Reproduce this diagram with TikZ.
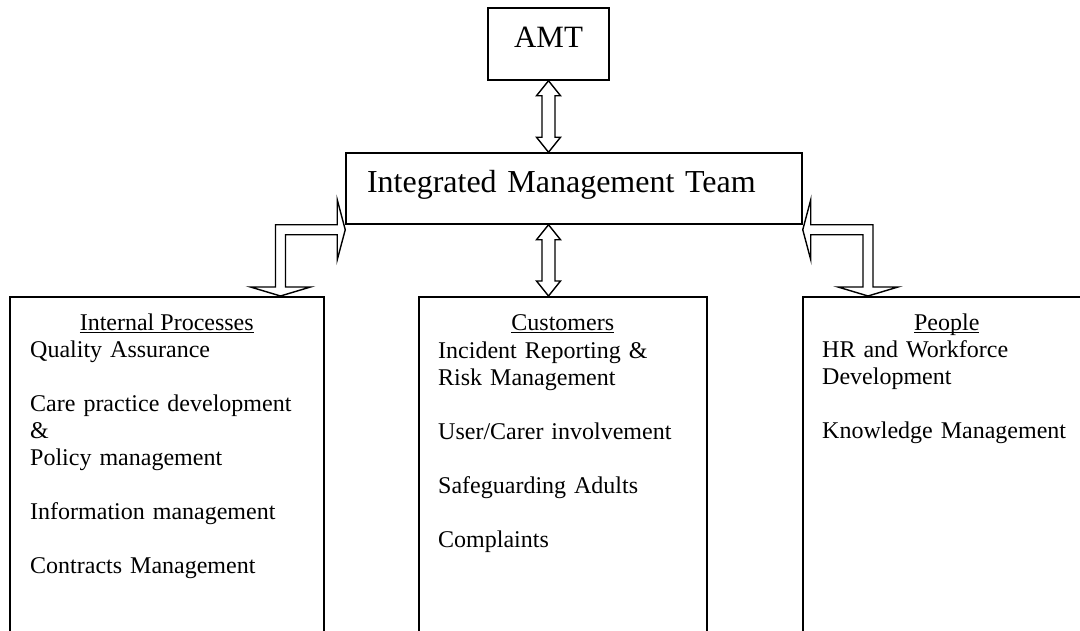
\documentclass[tikz,border=0pt]{standalone}
\usepackage{fontspec}
\setmainfont{Liberation Serif}
\usetikzlibrary{calc}

% heading underlined with a rule at a fixed depth below the baseline
\newcommand\hdrline[1]{\setbox0\hbox{#1}\rlap{\rule[-2.8bp]{\wd0}{1.1bp}}\box0}

\tikzset{
  frame/.style={draw, line width=1.5bp, rectangle, inner sep=0pt},
  blockarrow/.style={draw, line width=1.4bp, fill=white, line join=miter},
  big/.style={font=\fontsize{31bp}{36bp}\selectfont},
  bigger/.style={font=\fontsize{32bp}{36bp}\selectfont},
  body/.style={font=\fontsize{24bp}{27bp}\selectfont, inner sep=0pt},
  list/.style={body, anchor=base west, text width=280bp, align=left},
  head/.style={body, anchor=base}
}

% vertical two-headed block arrow from #1 (top tip) to #2 (bottom tip)
\newcommand\vdouble[2]{%
  \draw[blockarrow] let \p1=#1, \p2=#2 in
    (\x1,\y1) -- (\x1+12bp,\y1-15bp) -- (\x1+6.5bp,\y1-15bp)
    -- (\x1+6.5bp,\y2+15bp) -- (\x1+12bp,\y2+15bp) -- (\x1,\y2)
    -- (\x1-12bp,\y2+15bp) -- (\x1-6.5bp,\y2+15bp)
    -- (\x1-6.5bp,\y1-15bp) -- (\x1-12bp,\y1-15bp) -- cycle;}

\begin{document}
\begin{tikzpicture}[x=1bp,y=-1bp]
\clip (0,0) rectangle (1080,631);
\fill[white] (0,0) rectangle (1080,631);

% top boxes
\node[frame, big, minimum width=121bp, minimum height=72bp,
      text height=20bp, text depth=12bp] (amt) at (548.5,44) {AMT};
\node[frame, bigger, minimum width=456bp, minimum height=71bp, text width=414bp,
      align=left, text height=21bp, text depth=12bp] (imt) at (574,188.5)
      {Integrated Management Team};

% the three area boxes (they run past the lower edge)
\node[frame, anchor=north west, minimum width=314bp, minimum height=360bp] (ip) at (9,296) {};
\node[frame, anchor=north west, minimum width=288bp, minimum height=360bp] (cu) at (418,296) {};
\node[frame, anchor=north west, minimum width=288bp, minimum height=360bp] (pe) at (802,296) {};

% connectors
\vdouble{(amt.south)}{(amt.south |- imt.north)}
\vdouble{(amt.south |- imt.south)}{(amt.south |- cu.north)}

\draw[blockarrow] let \p1=($(imt.south west)+(0,5)$), \p2=($(ip.north east)+(-44,0)$) in
  (\x1,\y1) -- (\x1-8bp,\y1+30bp) -- (\x1-8bp,\y1+5bp) -- (\x2-5bp,\y1+5bp)
  -- (\x2-5bp,\y2+9bp) -- (\x2-30bp,\y2+9bp) -- (\x2,\y2) -- (\x2+30bp,\y2+9bp)
  -- (\x2+5bp,\y2+9bp) -- (\x2+5bp,\y1-5bp) -- (\x1-8bp,\y1-5bp)
  -- (\x1-8bp,\y1-30bp) -- cycle;

\draw[blockarrow] let \p1=($(imt.south east)+(0,5)$), \p2=($(pe.north west)+(66,0)$) in
  (\x1,\y1) -- (\x1+8bp,\y1+30bp) -- (\x1+8bp,\y1+5bp) -- (\x2+5bp,\y1+5bp)
  -- (\x2+5bp,\y2+9bp) -- (\x2+30bp,\y2+9bp) -- (\x2,\y2) -- (\x2-30bp,\y2+9bp)
  -- (\x2-5bp,\y2+9bp) -- (\x2-5bp,\y1-5bp) -- (\x1+8bp,\y1-5bp)
  -- (\x1+8bp,\y1-30bp) -- cycle;

% box contents
\node[head] (ipHead) at ($(ip.north)+(0,34)$) {\hdrline{Internal Processes}};
\node[list] (ipList) at ($(ip.north west)+(21,61)$)
  {Quality Assurance\\[27bp]Care practice development\\\&\\Policy management\\[27bp]%
   Information management\\[27bp]Contracts Management};

\node[head] (cuHead) at ($(cu.north)+(0,34)$) {\hdrline{Customers}};
\node[list] (cuList) at ($(cu.north west)+(20,62)$)
  {Incident Reporting \&\\Risk Management\\[27bp]User/Carer involvement\\[27bp]%
   Safeguarding Adults\\[27bp]Complaints};

\node[head] (peHead) at ($(pe.north)+(0,34)$) {\hdrline{People}};
\node[list] (peList) at ($(pe.north west)+(20,61)$)
  {HR and Workforce\\Development\\[27bp]Knowledge Management};
\end{tikzpicture}
\end{document}
